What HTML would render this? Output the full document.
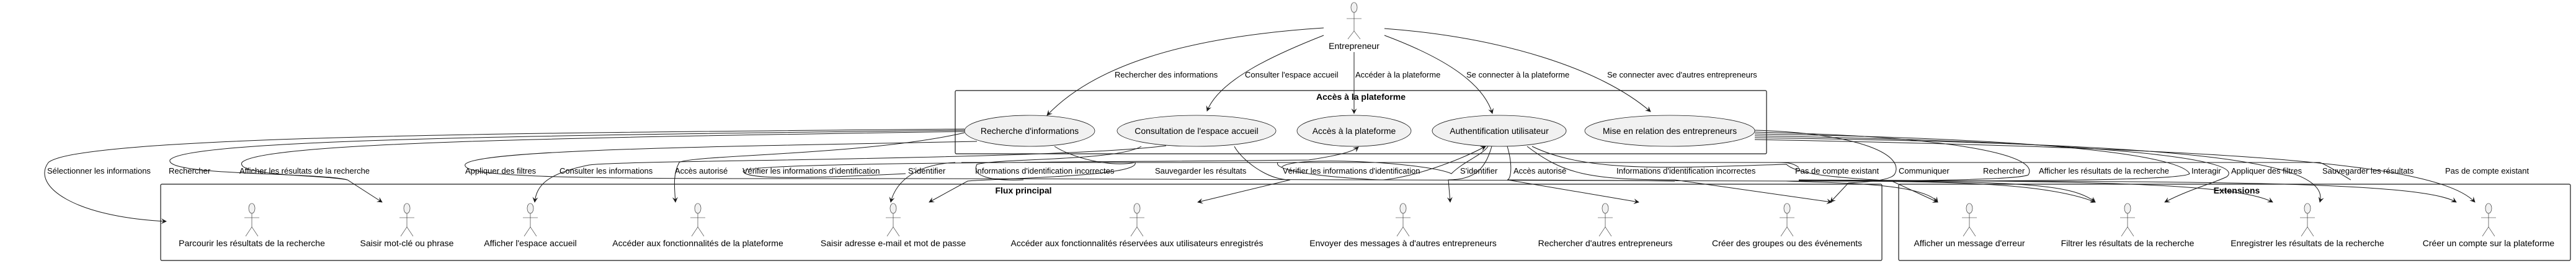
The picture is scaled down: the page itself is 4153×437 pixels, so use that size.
<!DOCTYPE html>
<html><head><meta charset="utf-8"><style>
html,body{margin:0;padding:0;background:#fff;}
svg{display:block;font-family:"Liberation Sans",sans-serif;}
.el{fill:#f1f1f1;stroke:#181818;stroke-width:0.8;}
.bx{fill:none;stroke:#181818;stroke-width:1.2;}
.ln{fill:none;stroke:#181818;stroke-width:1;}
.lb{font-size:13px;fill:#000;}
.ul{font-size:14px;fill:#000;text-anchor:middle;}
.ti{font-size:14px;font-weight:bold;fill:#000;text-anchor:middle;}
.ac{fill:none;stroke:#181818;stroke-width:0.6;}
.hd{fill:#f1f1f1;stroke:#181818;stroke-width:0.6;}
</style></head><body>
<svg width="4153" height="437" viewBox="0 0 4153 437" xmlns="http://www.w3.org/2000/svg">
<defs>
<marker id="a" viewBox="0 0 10 10" refX="9" refY="5" markerWidth="9" markerHeight="9" orient="auto-start-reverse" markerUnits="userSpaceOnUse"><path d="M0,0 L10,5 L0,10 L4,5 Z" fill="#181818"/></marker>
</defs>

<!-- boxes -->
<rect class="bx" x="1540" y="146" width="1308" height="102" rx="2"/>
<text class="ti" x="2194" y="161">Accès à la plateforme</text>
<rect class="bx" x="259" y="297" width="2775" height="123" rx="2"/>
<text class="ti" x="1650" y="312">Flux principal</text>
<rect class="bx" x="3061" y="297" width="1083" height="123" rx="2"/>
<text class="ti" x="3606" y="312">Extensions</text>

<!-- top actor -->
<g>
<ellipse class="hd" cx="2183" cy="12" rx="5" ry="8"/>
<line class="ac" x1="2183" y1="20" x2="2183" y2="50"/>
<line class="ac" x1="2171" y1="30" x2="2195" y2="30"/>
<line class="ac" x1="2183" y1="50" x2="2173" y2="63"/>
<line class="ac" x1="2183" y1="50" x2="2193" y2="63"/>
<text class="ul" x="2183" y="79">Entrepreneur</text>
</g>

<!-- top edges -->
<path class="ln" marker-end="url(#a)" d="M2134,45 C1900,60 1760,110 1688,186"/>
<path class="ln" marker-end="url(#a)" d="M2134,57 C2050,90 1965,130 1946,179"/>
<path class="ln" marker-end="url(#a)" d="M2183,84 L2183,183"/>
<path class="ln" marker-end="url(#a)" d="M2232,57 C2320,90 2390,130 2406,183"/>
<path class="ln" marker-end="url(#a)" d="M2232,46 C2420,60 2580,110 2661,180"/>
<text class="lb" x="1797" y="125">Rechercher des informations</text>
<text class="lb" x="2007" y="125">Consulter l'espace accueil</text>
<text class="lb" x="2185" y="125">Accéder à la plateforme</text>
<text class="lb" x="2364" y="125">Se connecter à la plateforme</text>
<text class="lb" x="2591" y="125">Se connecter avec d'autres entrepreneurs</text>

<!-- lower edges -->
<g>
<path class="ln" marker-end="url(#a)" d="M1555,208 C900,214 130,218 78,262 C50,300 120,350 268,357"/>
<path class="ln" d="M1555,210 C900,218 300,224 274,258 C266,284 520,278 560,290 L616,326" marker-end="url(#a)"/>
<path class="ln" d="M1555,212 C900,222 420,230 390,262 C380,284 520,282 560,290"/>
<path class="ln" d="M1575,228 C1200,236 770,240 750,265 C740,290 1000,288 1500,288 L2900,292 C3250,292 3340,295 3378,326" marker-end="url(#a)"/>
<path class="ln" marker-end="url(#a)" d="M1880,235 C1700,258 1000,258 950,266 C880,280 865,300 862,326"/>
<path class="ln" marker-end="url(#a)" d="M1555,214 C1400,250 1110,250 1095,262 C1085,280 1087,300 1089,326"/>
<path class="ln" d="M1460,280 C1300,288 1200,290 1198,276 C1200,262 1700,262 2110,258 C2160,250 2180,245 2190,237" marker-end="url(#a)"/>
<path class="ln" marker-end="url(#a)" d="M1540,262 C1480,265 1445,290 1436,326"/>
<path class="ln" d="M1700,236 C1730,255 1790,270 1830,262 C1840,285 1600,288 1560,292 L1498,326" marker-end="url(#a)"/>
<path class="ln" d="M1840,236 C1800,260 1610,255 1575,265 C1565,285 1600,292 1650,290"/>
<path class="ln" marker-end="url(#a)" d="M1990,236 C2000,255 2040,290 2080,290 L1931,326"/>
<path class="ln" marker-end="url(#a)" d="M2060,262 C2050,280 2200,290 2230,290 C2280,285 2350,260 2395,236"/>
<path class="ln" d="M2066,270 C2080,250 2300,262 2340,280 C2360,260 2390,250 2399,236"/>
<path class="ln" marker-end="url(#a)" d="M2405,236 C2395,270 2380,290 2335,290 L2338,326"/>
<path class="ln" marker-end="url(#a)" d="M2430,236 C2440,270 2435,290 2430,290 L2642,326" />
<path class="ln" d="M2430,290 C2700,292 2540,290 2700,292"/>
<path class="ln" marker-end="url(#a)" d="M2462,236 C2520,280 2560,290 2700,290 L2953,326"/>
<path class="ln" marker-end="url(#a)" d="M2470,236 C2560,280 2700,270 2880,265 C2900,285 3000,288 3050,292 L3124,326"/>
<path class="ln" marker-end="url(#a)" d="M2829,210 C3000,215 3070,250 3055,280 C3050,292 3000,294 2980,295 L2951,326"/>
<path class="ln" marker-end="url(#a)" d="M2829,213 C3150,220 3290,250 3270,282 C3250,292 3000,292 2880,292 C2960,295 3100,295 3124,326"/>
<path class="ln" marker-end="url(#a)" d="M2829,216 C3400,225 3520,260 3530,280 C3520,292 3200,292 3000,292 C3150,294 3300,295 3378,326"/>
<path class="ln" marker-end="url(#a)" d="M2829,219 C3450,230 3620,260 3590,285 C3570,295 3530,305 3490,326"/>
<path class="ln" marker-end="url(#a)" d="M2829,222 C3500,232 3760,255 3740,326"/>
<path class="ln" marker-end="url(#a)" d="M2829,225 C3600,240 3930,262 3990,326"/>
<path class="ln" marker-end="url(#a)" d="M2900,290 C3300,292 3600,292 3664,326"/>
<path class="ln" marker-end="url(#a)" d="M2900,291 C3500,293 3900,290 3960,326"/>
<path class="ln" d="M1550,262 L2860,262 C2880,262 2890,262 2900,270"/>
<path class="ln" d="M2700,262 L3740,262 C3760,270 3780,285 3790,290"/>
</g>

<!-- lower edge labels -->
<g class="lb">
<text x="76" y="280">Sélectionner les informations</text>
<text x="272" y="280">Rechercher</text>
<text x="386" y="280">Afficher les résultats de la recherche</text>
<text x="750" y="280">Appliquer des filtres</text>
<text x="902" y="280">Consulter les informations</text>
<text x="1088" y="280">Accès autorisé</text>
<text x="1197" y="280">Vérifier les informations d'identification</text>
<text x="1464" y="280">S'identifier</text>
<text x="1572" y="280">Informations d'identification incorrectes</text>
<text x="1862" y="280">Sauvegarder les résultats</text>
<text x="2068" y="280">Vérifier les informations d'identification</text>
<text x="2354" y="280">S'identifier</text>
<text x="2440" y="280">Accès autorisé</text>
<text x="2606" y="280">Informations d'identification incorrectes</text>
<text x="2894" y="280">Pas de compte existant</text>
<text x="3061" y="280">Communiquer</text>
<text x="3197" y="280">Rechercher</text>
<text x="3287" y="280">Afficher les résultats de la recherche</text>
<text x="3533" y="280">Interagir</text>
<text x="3597" y="280">Appliquer des filtres</text>
<text x="3744" y="280">Sauvegarder les résultats</text>
<text x="3942" y="280">Pas de compte existant</text>
</g>

<!-- ellipses -->
<ellipse class="el" cx="1660" cy="211" rx="105" ry="25"/>
<text class="ul" x="1660" y="216">Recherche d'informations</text>
<ellipse class="el" cx="1929" cy="211" rx="128" ry="25"/>
<text class="ul" x="1929" y="216">Consultation de l'espace accueil</text>
<ellipse class="el" cx="2183" cy="211" rx="92" ry="25"/>
<text class="ul" x="2183" y="216">Accès à la plateforme</text>
<ellipse class="el" cx="2417" cy="211" rx="108" ry="25"/>
<text class="ul" x="2417" y="216">Authentification utilisateur</text>
<ellipse class="el" cx="2692" cy="211" rx="137" ry="25"/>
<text class="ul" x="2692" y="216">Mise en relation des entrepreneurs</text>

<!-- lower actors -->
<defs>
<g id="act">
<ellipse class="hd" cx="0" cy="336" rx="5" ry="8"/>
<line class="ac" x1="0" y1="344" x2="0" y2="366"/>
<line class="ac" x1="-12" y1="351" x2="12" y2="351"/>
<line class="ac" x1="0" y1="366" x2="-10" y2="381"/>
<line class="ac" x1="0" y1="366" x2="10" y2="381"/>
</g>
</defs>
<use href="#act" x="406"/><text class="ul" x="406" y="397">Parcourir les résultats de la recherche</text>
<use href="#act" x="656"/><text class="ul" x="656" y="397">Saisir mot-clé ou phrase</text>
<use href="#act" x="855"/><text class="ul" x="855" y="397">Afficher l'espace accueil</text>
<use href="#act" x="1125"/><text class="ul" x="1125" y="397">Accéder aux fonctionnalités de la plateforme</text>
<use href="#act" x="1440"/><text class="ul" x="1440" y="397">Saisir adresse e-mail et mot de passe</text>
<use href="#act" x="1833"/><text class="ul" x="1833" y="397">Accéder aux fonctionnalités réservées aux utilisateurs enregistrés</text>
<use href="#act" x="2262"/><text class="ul" x="2262" y="397">Envoyer des messages à d'autres entrepreneurs</text>
<use href="#act" x="2588"/><text class="ul" x="2588" y="397">Rechercher d'autres entrepreneurs</text>
<use href="#act" x="2881"/><text class="ul" x="2881" y="397">Créer des groupes ou des événements</text>
<use href="#act" x="3175"/><text class="ul" x="3175" y="397">Afficher un message d'erreur</text>
<use href="#act" x="3430"/><text class="ul" x="3430" y="397">Filtrer les résultats de la recherche</text>
<use href="#act" x="3720"/><text class="ul" x="3720" y="397">Enregistrer les résultats de la recherche</text>
<use href="#act" x="4012"/><text class="ul" x="4012" y="397">Créer un compte sur la plateforme</text>
</svg>
</body></html>
